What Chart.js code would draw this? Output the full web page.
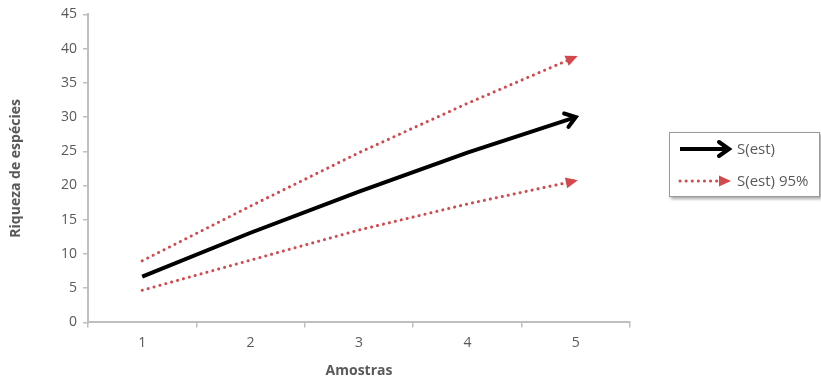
<!DOCTYPE html>
<html>
<head>
<meta charset="utf-8">
<script src="https://cdn.jsdelivr.net/npm/chart.js@4"></script>
<style>
  html, body { margin: 0; padding: 0; background: #fff; }
  #wrap { position: relative; width: 821px; height: 383px; }
</style>
</head>
<body>
<div id="wrap"><canvas id="chart" width="821" height="383"></canvas></div>
<script>
const amostras = ['1', '2', '3', '4', '5'];
const sEst = [6.7, 13.1, 19.1, 24.8, 30.0];
const sEstUpper = [9.0, 17.0, 24.8, 32.0, 38.8];
const sEstLower = [4.7, 9.1, 13.5, 17.3, 20.7];

const BLACK = '#000000';
const RED = '#d2484c';
const TEXT = '#595959';
const AXIS = '#bfbfbf';
const FONT = "'Open Sans', 'Liberation Sans', sans-serif";

function drawHead(ctx, x, y, angle, color, filled) {
    ctx.save();
    ctx.translate(x, y);
    ctx.rotate(angle);
    ctx.setLineDash([]);
    if (filled) {
        ctx.fillStyle = color;
        ctx.beginPath();
        ctx.moveTo(2, 0);
        ctx.lineTo(-10, -5.5);
        ctx.lineTo(-10, 5.5);
        ctx.closePath();
        ctx.fill();
    } else {
        ctx.strokeStyle = color;
        ctx.lineWidth = 4;
        ctx.lineCap = 'round';
        ctx.lineJoin = 'miter';
        ctx.beginPath();
        ctx.moveTo(-10, -7);
        ctx.lineTo(0, 0);
        ctx.lineTo(-10, 7);
        ctx.stroke();
    }
    ctx.restore();
}

// arrow heads at the end of each line, from the points the scales placed
const arrowPlugin = {
    id: 'arrows',
    afterDatasetsDraw(chart) {
        const ctx = chart.ctx;
        chart.data.datasets.forEach((ds, i) => {
            const pts = chart.getDatasetMeta(i).data;
            const a = pts[pts.length - 2], b = pts[pts.length - 1];
            const ang = Math.atan2(b.y - a.y, b.x - a.x);
            drawHead(ctx, b.x, b.y, ang, ds.borderColor, ds.arrowFilled);
        });
    }
};

// legend box on the right
const legendPlugin = {
    id: 'boxLegend',
    afterDraw(chart) {
        const ctx = chart.ctx;
        const x = 669, y = 132, w = 151, h = 65;
        ctx.save();
        ctx.shadowColor = 'rgba(0,0,0,0.35)';
        ctx.shadowOffsetX = 2;
        ctx.shadowOffsetY = 2;
        ctx.shadowBlur = 3;
        ctx.fillStyle = '#fff';
        ctx.fillRect(x, y, w, h);
        ctx.restore();
        ctx.save();
        ctx.strokeStyle = '#9a9a9a';
        ctx.lineWidth = 1;
        ctx.strokeRect(x + 0.5, y + 0.5, w - 1, h - 1);

        const items = chart.data.datasets.filter(d => d.inLegend);
        items.forEach((ds, k) => {
            const ly = y + 17 + k * 32;
            ctx.strokeStyle = ds.borderColor;
            ctx.lineWidth = ds.borderWidth;
            ctx.lineCap = ds.borderCapStyle || 'butt';
            ctx.setLineDash(ds.borderDash || []);
            ctx.beginPath();
            ctx.moveTo(680, ly);
            ctx.lineTo(726, ly);
            ctx.stroke();
            drawHead(ctx, 729, ly, 0, ds.borderColor, ds.arrowFilled);
            ctx.fillStyle = TEXT;
            ctx.font = '15px ' + FONT;
            ctx.textBaseline = 'middle';
            ctx.textAlign = 'left';
            ctx.fillText(ds.label, 737, ly + 1);
        });
        ctx.restore();
    }
};

new Chart(document.getElementById('chart'), {
    type: 'line',
    data: {
        labels: amostras,
        datasets: [
            {
                label: 'S(est)',
                data: sEst,
                borderColor: BLACK,
                borderWidth: 4,
                pointRadius: 0,
                tension: 0,
                arrowFilled: false,
                inLegend: true
            },
            {
                label: 'S(est) 95%',
                data: sEstUpper,
                borderColor: RED,
                borderWidth: 3,
                borderDash: [0.1, 6],
                borderCapStyle: 'round',
                pointRadius: 0,
                tension: 0,
                arrowFilled: true,
                inLegend: true
            },
            {
                label: 'S(est) 95% inferior',
                data: sEstLower,
                borderColor: RED,
                borderWidth: 3,
                borderDash: [0.1, 6],
                borderCapStyle: 'round',
                pointRadius: 0,
                tension: 0,
                arrowFilled: true,
                inLegend: false
            }
        ]
    },
    options: {
        responsive: false,
        animation: false,
        layout: { padding: { top: 7, right: 191, bottom: 4, left: 8 } },
        plugins: {
            legend: { display: false },
            tooltip: { enabled: false }
        },
        scales: {
            x: {
                offset: true,
                grid: {
                    offset: true,
                    drawOnChartArea: false,
                    drawTicks: true,
                    tickLength: 5,
                    color: AXIS,
                    lineWidth: 1.5
                },
                border: { color: AXIS, width: 2 },
                ticks: { color: TEXT, font: { family: FONT, size: 14 }, padding: 7 },
                title: {
                    display: true,
                    text: 'Amostras',
                    color: TEXT,
                    font: { family: FONT, size: 14, weight: 'bold' },
                    padding: { top: 4, bottom: 0 }
                }
            },
            y: {
                min: 0,
                max: 45,
                ticks: { stepSize: 5, color: TEXT, font: { family: FONT, size: 14 }, padding: 6 },
                grid: {
                    drawOnChartArea: false,
                    drawTicks: true,
                    tickLength: 5,
                    color: AXIS,
                    lineWidth: 1.5
                },
                border: { color: AXIS, width: 2 },
                title: {
                    display: true,
                    text: 'Riqueza de espécies',
                    color: TEXT,
                    font: { family: FONT, size: 14, weight: 'bold' },
                    padding: { top: 0, bottom: 12 }
                },
                afterFit(scale) { scale.width = 80; }
            }
        }
    },
    plugins: [arrowPlugin, legendPlugin]
});
</script>
</body>
</html>
